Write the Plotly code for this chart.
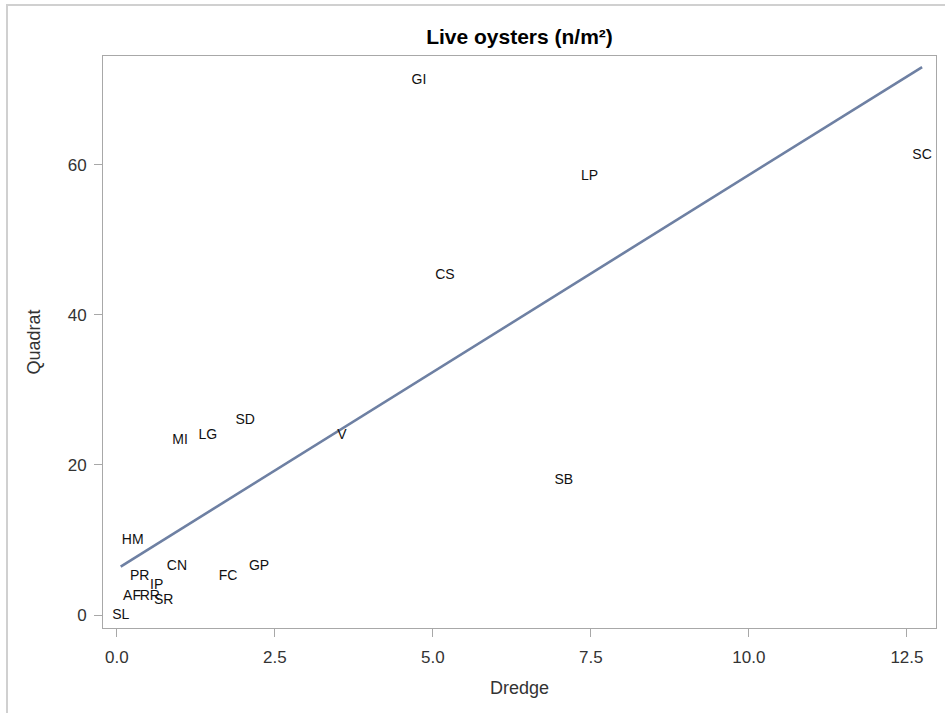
import numpy as np
import plotly.graph_objects as go

sites = ["GI", "SC", "LP", "CS", "SD", "LG", "MI", "V", "SB", "HM",
         "CN", "GP", "FC", "PR", "IP", "AF", "RR", "SR", "SL"]
dredge = [4.78, 12.74, 7.48, 5.19, 2.03, 1.44, 1.00, 3.56, 7.07, 0.25,
          0.95, 2.25, 1.76, 0.36, 0.63, 0.24, 0.52, 0.74, 0.06]
quadrat = [71.3, 61.3, 58.4, 45.2, 25.9, 23.9, 23.3, 23.9, 17.9, 9.9,
           6.5, 6.5, 5.1, 5.1, 4.0, 2.5, 2.5, 2.0, 0.0]

x = np.array(dredge)
y = np.array(quadrat)
slope, intercept = np.polyfit(x, y, 1)
xf = np.array([x.min(), x.max()])
yf = intercept + slope * xf

FONT = "Liberation Sans, Arial, sans-serif"

fig = go.Figure()
fig.add_trace(go.Scatter(x=xf, y=yf, mode="lines",
                         line=dict(color="#6e80a3", width=2.6),
                         hoverinfo="skip", showlegend=False))
fig.add_trace(go.Scatter(x=dredge, y=quadrat, mode="text", text=sites,
                         textposition="middle center",
                         textfont=dict(family=FONT, size=14, color="#111111"),
                         showlegend=False))

axis_common = dict(showline=True, linecolor="#a8a8a8", linewidth=1, mirror=True,
                   ticks="outside", ticklen=8, tickcolor="#a8a8a8",
                   showgrid=False, zeroline=False,
                   tickfont=dict(family=FONT, size=17, color="#333333"))

fig.update_layout(
    width=945, height=713,
    margin=dict(l=103, r=9, t=56, b=85),
    paper_bgcolor="white", plot_bgcolor="white",
    title=dict(text="<b>Live oysters (n/m²)</b>", x=0.5, xref="paper",
               y=1 - 37 / 713, yanchor="middle",
               font=dict(family=FONT, size=21, color="black")),
    xaxis=dict(range=[-0.22, 12.96], tick0=0, dtick=2.5, tickformat=".1f",
               ticklabelstandoff=6,
               title=dict(text="Dredge", standoff=14,
                          font=dict(family=FONT, size=18, color="#333333")),
               **axis_common),
    yaxis=dict(range=[-1.73, 74.5], tick0=0, dtick=20,
               ticklabelstandoff=4,
               title=dict(text="Quadrat", standoff=22,
                          font=dict(family=FONT, size=18, color="#333333")),
               **axis_common),
    shapes=[dict(type="rect", xref="paper", yref="paper",
                 x0=(7 - 103) / 833, x1=1.2, y0=-0.3, y1=(628 - 5) / 572,
                 line=dict(color="#d0d0d0", width=2), layer="below")],
)

fig.write_html("out.html")
